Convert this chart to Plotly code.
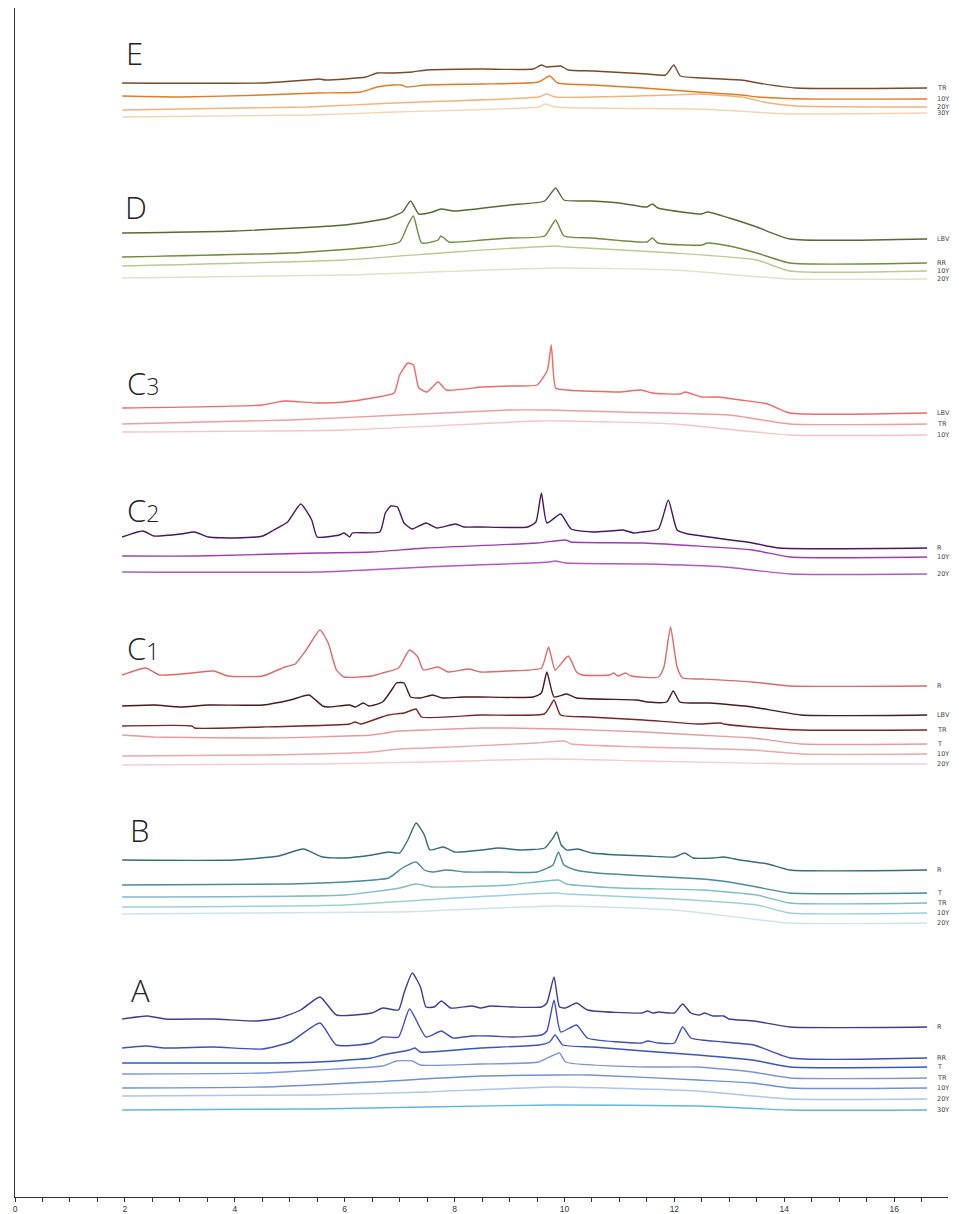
import plotly.graph_objects as go

# ---------------- data: (retention time [min], stacked intensity [a.u.]) ----------------
# Group A
A_R = [(1.95,178),(2.41,181),(2.73,178),(3.62,178),(4.41,176),(4.81,179),(5.20,187),(5.55,200),(5.85,182),(6.49,184),(6.69,189),(6.98,187),(7.08,204),(7.23,224),(7.38,210),(7.48,190),(7.63,190),(7.76,196),(7.93,189),(8.32,191),(8.47,189),(8.65,191),(9.06,190),(9.58,190),(9.68,194),(9.81,220),(9.91,190),(10.02,189),(10.22,194),(10.42,187),(11.41,184),(11.51,186),(11.61,184),(11.71,185),(12.00,184),(12.15,193),(12.30,184),(12.45,182),(12.55,184),(12.70,181),(12.90,181),(12.99,178),(13.45,176),(14.11,170),(16.6,170)]
A_RR = [(1.95,149),(2.38,151),(2.73,149),(3.62,150),(4.51,148),(5.01,155),(5.55,174),(5.85,152),(6.49,154),(6.69,160),(6.98,160),(7.18,188),(7.48,160),(7.76,166),(7.97,159),(8.32,161),(8.65,161),(9.06,160),(9.58,162),(9.68,166),(9.81,197),(9.93,165),(10.22,172),(10.42,159),(11.41,154),(11.51,156),(11.71,154),(12.00,154),(12.15,170),(12.30,159),(12.50,157),(12.90,155),(13.45,152),(14.11,139),(16.6,139)]
A_T = [(1.95,134),(4.51,134),(5.50,135),(6.49,139),(6.69,142),(7.18,147),(7.28,149),(7.38,145),(8.47,149),(9.53,152),(9.73,155),(9.83,162),(9.97,152),(10.52,150),(11.44,146),(12.43,142),(13.42,137),(14.11,130),(16.6,130)]
A_TR = [(1.95,123),(4.51,124),(5.50,127),(6.69,131),(6.94,136),(7.23,136),(7.38,132),(8.47,133),(9.53,135),(9.91,144),(10.02,135),(11.44,130),(12.43,130),(13.42,125),(14.11,119),(16.6,119)]
A_10Y = [(1.95,109),(4.51,110),(6.49,115),(8.47,121),(9.85,122),(10.45,122),(12.43,117),(13.42,114),(14.11,109),(16.6,109)]
A_20Y = [(1.95,101),(5.50,102),(7.48,105),(9.8,110),(12.43,106),(14.11,98),(16.6,98)]
A_30Y = [(1.95,87),(5.50,88),(7.48,90),(9.8,92),(12.43,91),(14.11,87),(16.6,87)]

# Group B
B_R = [(1.95,337),(4.0,337),(4.8,341),(5.25,348),(5.6,340),(6.0,339),(6.5,342),(6.8,345),(7.0,344),(7.15,357),(7.3,374),(7.45,362),(7.55,347),(7.8,350),(8.0,345),(8.5,347),(8.8,349),(9.2,347),(9.64,349),(9.79,359),(9.86,365),(9.94,352),(10.04,347),(10.24,348),(10.5,344),(11.0,342),(11.5,341),(12.0,340),(12.19,344),(12.34,339),(12.7,339),(12.9,340),(13.2,337),(13.7,333),(14.1,327),(16.6,327)]
B_T = [(1.95,312),(5.0,313),(6.0,315),(6.8,319),(7.05,329),(7.3,335),(7.45,327),(7.6,325),(7.85,327),(8.2,325),(8.8,325),(9.5,325),(9.79,332),(9.89,345),(9.99,332),(10.2,327),(10.6,324),(11.5,321),(12.2,319),(12.7,317),(13.0,315),(13.5,310),(14.1,304),(16.6,304)]
B_TR = [(1.95,300),(6.0,302),(7.0,309),(7.3,313),(7.6,310),(9.0,312),(9.89,317),(10.04,313),(11.0,309),(12.5,307),(13.5,302),(14.1,294),(16.6,294)]
B_10Y = [(1.95,290),(6.0,292),(8.0,299),(9.84,304),(10.04,303),(12.0,298),(13.5,292),(14.1,284),(16.6,284)]
B_20Y = [(1.95,283),(7.0,285),(9.84,291),(12.0,287),(14.1,274),(16.6,274)]

# Group C1
C1_R = [(1.95,522),(2.38,529),(2.63,522),(3.22,524),(3.62,526),(3.87,521),(4.51,521),(4.91,530),(5.10,533),(5.30,547),(5.55,567),(5.70,554),(5.85,527),(5.99,520),(6.49,521),(6.69,524),(6.98,529),(7.18,547),(7.33,540),(7.43,527),(7.70,530),(7.88,525),(8.27,528),(8.47,525),(8.96,526),(9.58,529),(9.71,550),(9.83,527),(10.07,541),(10.22,525),(10.32,522),(10.82,522),(10.90,524),(10.97,521),(11.11,524),(11.21,521),(11.71,520),(11.81,530),(11.93,570),(12.05,530),(12.15,519),(12.50,518),(13.42,515),(14.11,511),(16.6,511)]
C1_LBV = [(1.95,491),(2.53,492),(3.02,490),(3.52,492),(4.51,492),(5.01,497),(5.35,502),(5.60,491),(5.70,490),(6.09,492),(6.19,490),(6.34,494),(6.44,491),(6.69,495),(6.89,510),(6.94,514),(7.08,514),(7.20,500),(7.38,499),(7.60,502),(7.78,499),(8.17,500),(8.47,500),(9.43,500),(9.58,504),(9.68,525),(9.81,500),(10.04,503),(10.22,499),(11.31,497),(11.51,495),(11.86,495),(11.98,506),(12.10,495),(12.30,494),(12.45,494),(12.65,494),(13.42,490),(14.31,482),(16.6,482)]
C1_TR = [(1.95,471),(3.22,471),(3.27,469),(4.51,470),(6.09,473),(6.19,475),(6.29,473),(6.79,482),(7.08,484),(7.23,487),(7.30,488),(7.40,480),(8.47,482),(9.63,483),(9.73,490),(9.81,497),(9.93,482),(10.45,480),(11.44,477),(12.43,473),(12.85,474),(12.90,473),(13.42,470),(14.31,467),(16.6,467)]
C1_T = [(1.95,462),(2.53,460),(4.51,459),(6.49,462),(6.98,466),(7.48,467),(8.47,469),(9.95,468),(11.44,465),(12.43,462),(13.42,459),(14.31,453),(16.6,453)]
C1_10Y = [(1.95,441),(4.51,442),(6.49,445),(6.98,448),(7.48,449),(9.5,454),(10.00,456),(10.12,453),(11.44,450),(13.42,447),(14.31,443),(16.6,443)]
C1_20Y = [(1.95,432),(5.50,433),(7.48,435),(9.7,438),(11.44,436),(14.31,433),(16.6,433)]

# Group C2
C2_R = [(1.95,660),(2.33,666),(2.53,661),(3.02,663),(3.27,665),(3.52,660),(4.01,659),(4.51,661),(4.71,667),(4.96,675),(5.20,693),(5.40,677),(5.50,660),(5.90,662),(5.99,664),(6.09,660),(6.14,664),(6.64,665),(6.74,684),(6.84,691),(6.96,690),(7.08,674),(7.23,668),(7.48,674),(7.68,669),(8.02,673),(8.17,670),(8.47,670),(9.33,670),(9.48,675),(9.58,704),(9.68,674),(9.93,683),(10.12,668),(10.52,665),(10.82,666),(11.07,667),(11.26,664),(11.41,665),(11.71,668),(11.89,697),(12.05,667),(12.25,663),(12.50,661),(13.02,657),(13.32,655),(13.91,649),(16.6,649)]
C2_10Y = [(1.95,641),(3.32,641),(5.50,644),(6.49,645),(7.48,649),(9.5,654),(10.02,657),(10.12,655),(11.44,654),(13.42,647),(14.11,640),(16.6,640)]
C2_20Y = [(1.95,625),(5.50,625),(7.48,630),(9.73,635),(9.83,636),(10.02,634),(11.44,633),(12.92,630),(14.11,623),(16.6,623)]

# Group C3
C3_LBV = [(1.95,789),(4.5,792),(4.9,796),(5.5,794),(6.0,795),(6.5,799),(6.9,804),(7.0,822),(7.15,834),(7.25,832),(7.35,809),(7.5,805),(7.7,815),(7.85,807),(8.5,810),(9.0,811),(9.5,812),(9.69,827),(9.76,852),(9.84,809),(10.04,807),(11.0,805),(11.4,807),(11.6,804),(12.1,803),(12.2,805),(12.5,800),(12.8,800),(13.2,797),(13.7,793),(14.1,784),(16.6,784)]
C3_TR = [(1.95,773),(5.0,777),(7.0,782),(9.0,787),(9.7,787),(11.0,785),(13.0,782),(14.1,773),(16.6,773)]
C3_10Y = [(1.95,765),(6.0,767),(9.5,776),(10.0,776),(12.0,773),(14.1,762),(16.6,762)]

# Group D
D_LBV = [(1.95,964),(4.0,966),(6.0,972),(6.8,979),(7.05,985),(7.2,996),(7.35,983),(7.6,985),(7.75,988),(8.0,986),(9.0,992),(9.64,996),(9.84,1009),(9.99,997),(10.5,996),(11.0,994),(11.5,990),(11.6,993),(11.7,989),(12.5,983),(12.6,985),(13.0,979),(13.5,970),(14.1,958),(16.6,958)]
D_RR = [(1.95,940),(5.0,944),(6.5,950),(7.0,955),(7.15,972),(7.25,981),(7.4,954),(7.7,957),(7.75,961),(7.9,955),(8.5,957),(9.0,959),(9.64,961),(9.84,977),(9.99,961),(10.5,959),(11.5,955),(11.6,959),(11.7,954),(12.5,952),(12.6,954),(13.0,951),(13.5,944),(14.1,934),(16.6,934)]
D_10Y = [(1.95,931),(6.0,937),(8.0,945),(9.84,951),(10.04,950),(12.0,944),(13.5,937),(14.1,926),(16.6,926)]
D_20Y = [(1.95,919),(6.0,922),(9.84,929),(12.0,927),(14.1,918),(16.6,918)]

# Group E
E_TR = [(1.95,1114),(4.51,1114),(5.30,1117),(5.55,1118),(5.65,1117),(6.39,1120),(6.59,1124),(6.89,1124),(7.23,1125),(7.48,1127),(8.47,1128),(9.43,1128),(9.58,1132),(9.68,1130),(9.93,1131),(10.07,1127),(10.52,1126),(11.51,1123),(11.84,1122),(11.99,1132),(12.11,1121),(12.50,1119),(13.22,1117),(13.52,1114),(14.21,1109),(16.6,1109)]
E_10Y = [(1.95,1101),(3.02,1100),(4.51,1102),(5.50,1104),(6.29,1105),(6.59,1110),(6.89,1112),(7.03,1112),(7.13,1110),(7.48,1112),(8.47,1113),(9.53,1115),(9.73,1121),(9.88,1114),(10.52,1112),(11.44,1109),(12.43,1105),(13.22,1102),(13.52,1100),(14.41,1098),(16.6,1098)]
E_20Y = [(1.95,1087),(5.30,1090),(6.89,1094),(9.53,1100),(9.68,1103),(9.83,1100),(11.93,1102),(12.43,1103),(13.22,1100),(13.72,1094),(14.21,1091),(16.6,1090)]
E_30Y = [(1.95,1080),(5.40,1082),(6.89,1085),(9.53,1090),(9.65,1093),(9.83,1090),(12.43,1088),(13.42,1085),(13.72,1084),(14.21,1083),(16.6,1084)]

# trace label, colour
TRACES = [
    (A_R, "R", "#3c3c96"), (A_RR, "RR", "#3f4fb8"), (A_T, "T", "#3656c4"),
    (A_TR, "TR", "#7b96d8"), (A_10Y, "10Y", "#6d91d6"), (A_20Y, "20Y", "#a9c6ee"), (A_30Y, "30Y", "#5cb8e3"),
    (B_R, "R", "#336c7c"), (B_T, "T", "#4a8a9c"), (B_TR, "TR", "#7dbccc"),
    (B_10Y, "10Y", "#9ccfdc"), (B_20Y, "20Y", "#cde4ea"),
    (C1_R, "R", "#e06868"), (C1_LBV, "LBV", "#4a1a1e"), (C1_TR, "TR", "#7b2626"),
    (C1_T, "T", "#e89a9a"), (C1_10Y, "10Y", "#eca7a7"), (C1_20Y, "20Y", "#f6cccc"),
    (C2_R, "R", "#4c1560"), (C2_10Y, "10Y", "#9c3cb4"), (C2_20Y, "20Y", "#b05ac8"),
    (C3_LBV, "LBV", "#ee6a64"), (C3_TR, "TR", "#f29c9a"), (C3_10Y, "10Y", "#f8c4c2"),
    (D_LBV, "LBV", "#556b2f"), (D_RR, "RR", "#6b8e3a"), (D_10Y, "10Y", "#b8cc8c"), (D_20Y, "20Y", "#dbe6c4"),
    (E_TR, "TR", "#7a4a28"), (E_10Y, "10Y", "#e27b22"), (E_20Y, "20Y", "#f4b27a"), (E_30Y, "30Y", "#f8d2b0"),
]

# group titles: (text, x [min], y [a.u.])
GROUP_LABELS = [
    ("E", 1.98, 1144), ("D", 1.96, 990),
    ("C<span style='font-size:23px'>3</span>", 2.0, 814),
    ("C<span style='font-size:23px'>2</span>", 2.0, 687),
    ("C<span style='font-size:23px'>1</span>", 2.0, 549),
    ("B", 2.05, 367), ("A", 2.08, 207),
]

MAJOR_TICKS = [0, 2, 4, 6, 8, 10, 12, 14, 16]
X_MAX = 16.98
Y_MAX = 1189

fig = go.Figure()
for pts, lab, col in TRACES:
    xs = [p[0] for p in pts]
    ys = [p[1] for p in pts]
    fig.add_trace(go.Scatter(x=xs, y=ys, mode="lines",
                             line=dict(color=col, width=1.4, shape="spline", smoothing=0.5),
                             hoverinfo="skip", showlegend=False))
    fig.add_annotation(x=16.75, y=ys[-1], text=lab, showarrow=False,
                       xanchor="left", yanchor="middle",
                       font=dict(family="DejaVu Sans", size=6.5, color="#444"))

for txt, gx, gy in GROUP_LABELS:
    fig.add_annotation(x=gx, y=gy, text=txt, showarrow=False, xanchor="left", yanchor="middle",
                       font=dict(family="Open Sans", size=31, color="#222", weight=300))

fig.add_annotation(x=16.62, y=-10, text="min", showarrow=False, xanchor="left", yanchor="middle",
                   font=dict(family="Liberation Sans Narrow, Liberation Sans", size=8.5, color="#333"))

fig.update_layout(
    width=951, height=1206,
    margin=dict(l=7, r=11, t=0, b=17, autoexpand=False),
    paper_bgcolor="white", plot_bgcolor="white",
    xaxis=dict(range=[0, X_MAX], tickvals=MAJOR_TICKS, ticks="outside", ticklen=4,
               tickcolor="#333", showline=True, linecolor="#333", linewidth=1,
               showgrid=False, zeroline=False,
               tickfont=dict(family="Liberation Sans Narrow, Liberation Sans", size=8.5, color="#333"),
               minor=dict(dtick=0.5, ticks="outside", ticklen=4, tickcolor="#333", showgrid=False)),
    yaxis=dict(range=[0, Y_MAX], showline=True, linecolor="#333", linewidth=1,
               showticklabels=False, ticks="", showgrid=False, zeroline=False),
)

fig.write_html("out.html")
